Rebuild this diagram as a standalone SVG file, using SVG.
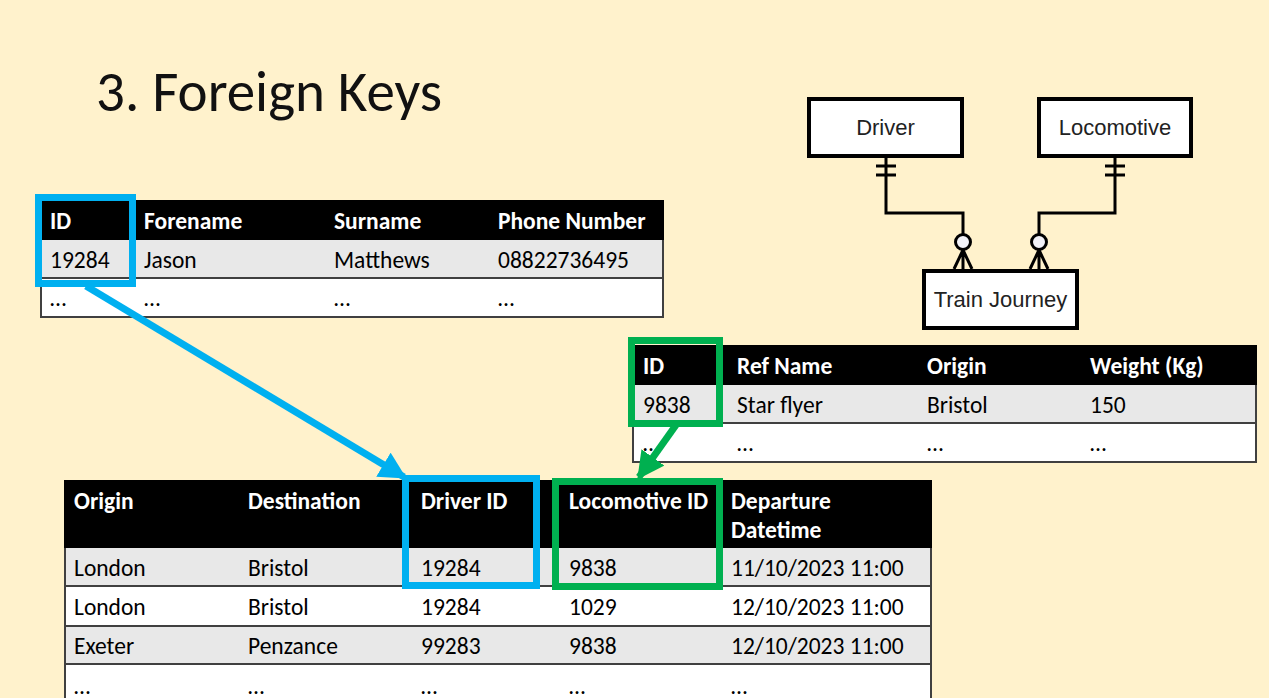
<svg xmlns="http://www.w3.org/2000/svg" width="1269" height="698" viewBox="0 0 1269 698">
<style>
.t{font-family:Carlito,Lato,"Liberation Sans",sans-serif;font-size:23.5px;fill:#000}
.h{font-family:Carlito,Lato,"Liberation Sans",sans-serif;font-size:23.5px;font-weight:bold;fill:#fff}
.er{font-family:"Liberation Sans",Arial,sans-serif;font-size:22px;fill:#222}
.hdr{fill:#000}
.g{fill:#e8e8e8}
.w{fill:#fff}
.rl{stroke:#404040;stroke-width:2;fill:none}
.ent{fill:#fff;stroke:#000;stroke-width:4}
.cn{fill:none;stroke:#000;stroke-width:3}
.blue{fill:none;stroke:#00b0f0;stroke-width:7}
.green{fill:none;stroke:#00b050;stroke-width:7}
</style>
<defs>
<marker id="ab" markerUnits="userSpaceOnUse" markerWidth="34" markerHeight="34" refX="24" refY="14" orient="auto"><path d="M0,0 L27,14 L0,28 z" fill="#00b0f0"/></marker>
<marker id="ag" markerUnits="userSpaceOnUse" markerWidth="34" markerHeight="34" refX="24" refY="14" orient="auto"><path d="M0,0 L27,14 L0,28 z" fill="#00b050"/></marker>
</defs>
<rect width="1269" height="698" fill="#fff2cc"/>
<text x="96" y="111" style="font-family:Carlito,Lato,'Liberation Sans',sans-serif;font-size:57px;font-weight:300;fill:#111">3. Foreign Keys</text>

<g id="driver-table">
<rect class="hdr" x="40" y="200" width="624" height="40"/>
<rect class="g" x="40" y="240" width="624" height="38"/>
<rect class="w" x="40" y="278" width="624" height="39"/>
<path class="rl" d="M40,278 H664 M40,317 H664 M41,240 V317 M663,240 V317"/>
<text class="h" x="50" y="229">ID</text><text class="h" x="144" y="229">Forename</text><text class="h" x="334" y="229">Surname</text><text class="h" x="498" y="229">Phone Number</text>
<text class="t" x="50" y="268">19284</text><text class="t" x="144" y="268">Jason</text><text class="t" x="334" y="268">Matthews</text><text class="t" x="498" y="268">08822736495</text>
<text class="t" x="50" y="306">…</text><text class="t" x="144" y="306">…</text><text class="t" x="334" y="306">…</text><text class="t" x="498" y="306">…</text>
</g>

<g id="locomotive-table">
<rect class="hdr" x="632" y="345" width="625" height="40"/>
<rect class="g" x="632" y="385" width="625" height="38"/>
<rect class="w" x="632" y="423" width="625" height="39"/>
<path class="rl" d="M632,423 H1257 M632,462 H1257 M633,385 V462 M1256,385 V462"/>
<text class="h" x="643" y="374">ID</text><text class="h" x="737" y="374">Ref Name</text><text class="h" x="927" y="374">Origin</text><text class="h" x="1090" y="374">Weight (Kg)</text>
<text class="t" x="643" y="413">9838</text><text class="t" x="737" y="413">Star flyer</text><text class="t" x="927" y="413">Bristol</text><text class="t" x="1090" y="413">150</text>
<text class="t" x="643" y="451">…</text><text class="t" x="737" y="451">…</text><text class="t" x="927" y="451">…</text><text class="t" x="1090" y="451">…</text>
</g>

<g id="journey-table">
<rect class="hdr" x="64" y="480" width="868" height="68"/>
<rect class="g" x="64" y="548" width="868" height="38"/>
<rect class="w" x="64" y="586" width="868" height="40"/>
<rect class="g" x="64" y="626" width="868" height="38"/>
<rect class="w" x="64" y="664" width="868" height="40"/>
<path class="rl" d="M64,586 H932 M64,626 H932 M64,664 H932 M65,548 V698 M931,548 V698"/>
<text class="h" x="74" y="509">Origin</text><text class="h" x="248" y="509">Destination</text><text class="h" x="421" y="509">Driver ID</text><text class="h" x="569" y="509">Locomotive ID</text><text class="h" x="731" y="509">Departure</text><text class="h" x="731" y="538">Datetime</text>
<text class="t" x="74" y="576">London</text><text class="t" x="248" y="576">Bristol</text><text class="t" x="421" y="576">19284</text><text class="t" x="569" y="576">9838</text><text class="t" x="731" y="576">11/10/2023 11:00</text>
<text class="t" x="74" y="615">London</text><text class="t" x="248" y="615">Bristol</text><text class="t" x="421" y="615">19284</text><text class="t" x="569" y="615">1029</text><text class="t" x="731" y="615">12/10/2023 11:00</text>
<text class="t" x="74" y="654">Exeter</text><text class="t" x="248" y="654">Penzance</text><text class="t" x="421" y="654">99283</text><text class="t" x="569" y="654">9838</text><text class="t" x="731" y="654">12/10/2023 11:00</text>
<text class="t" x="74" y="694">…</text><text class="t" x="248" y="694">…</text><text class="t" x="421" y="694">…</text><text class="t" x="569" y="694">…</text><text class="t" x="731" y="694">…</text>
</g>

<g id="highlights">
<rect class="blue" x="38.5" y="197.5" width="94" height="86"/>
<rect class="blue" x="405.5" y="478.5" width="131" height="107"/>
<rect class="green" x="631.5" y="340.5" width="88" height="83"/>
<rect class="green" x="555.5" y="481.5" width="164" height="105"/>
</g>

<g id="er-driver"><rect class="ent" x="809" y="99" width="153" height="57"/><text class="er" x="885.5" y="135" text-anchor="middle">Driver</text></g>
<g id="er-locomotive"><rect class="ent" x="1039" y="99" width="152" height="57"/><text class="er" x="1115" y="135" text-anchor="middle">Locomotive</text></g>
<g id="er-journey"><rect class="ent" x="924" y="271" width="153" height="57"/><text class="er" x="1000.5" y="307" text-anchor="middle">Train Journey</text></g>

<g id="connectors">
<path d="M86,286 L404,477" stroke="#00b0f0" stroke-width="7" fill="none" marker-end="url(#ab)"/>
<path d="M676,425 L639,477" stroke="#00b050" stroke-width="7" fill="none" marker-end="url(#ag)"/>
<path class="cn" d="M886,158 V213 H963 V234 M876,166 H896 M876,175 H896 M963,250 L954,269 M963,250 V269 M963,250 L972,269"/>
<circle cx="963" cy="242" r="7.5" fill="#f2f2f8" stroke="#000" stroke-width="3"/>
<path class="cn" d="M1115,158 V213 H1039 V234 M1105,166 H1125 M1105,175 H1125 M1039,250 L1030,269 M1039,250 V269 M1039,250 L1048,269"/>
<circle cx="1039" cy="242" r="7.5" fill="#f2f2f8" stroke="#000" stroke-width="3"/>
</g>
</svg>
